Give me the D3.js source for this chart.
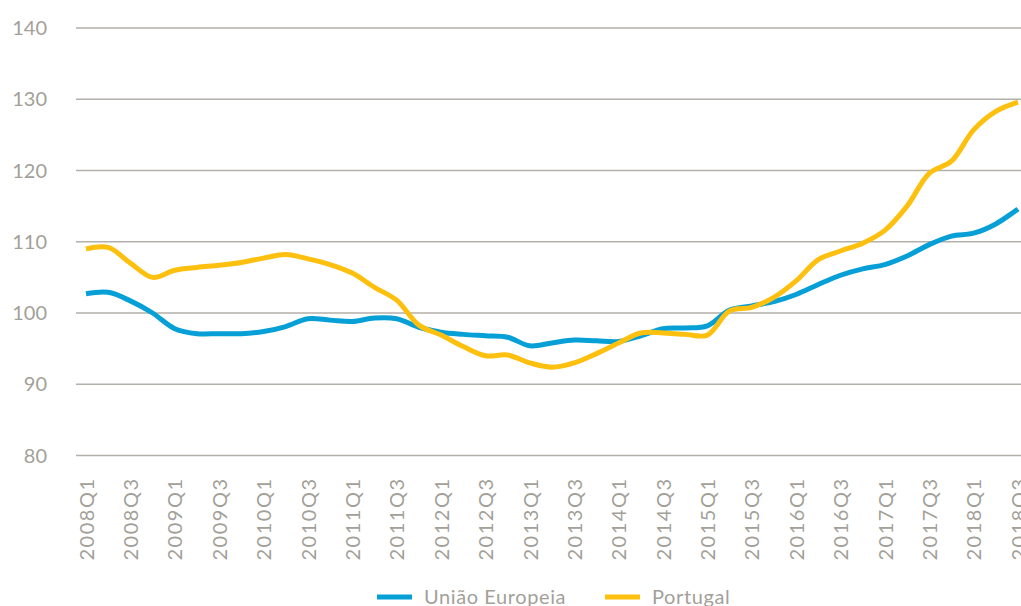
<!DOCTYPE html>
<html>
<head>
<meta charset="utf-8">
<script src="https://cdn.jsdelivr.net/npm/d3@7"></script>
<style>
  body { margin: 0; background: #fff; }
  svg { display: block; font-family: Lato, "Open Sans", sans-serif; }
</style>
</head>
<body>
<svg id="chart" width="1021" height="606"></svg>
<script>
const quarters = [];
for (let y = 2008; y <= 2018; y++) {
  for (let q = 1; q <= 4; q++) {
    if (y === 2018 && q > 3) break;
    quarters.push(`${y}Q${q}`);
  }
}

const ueValues = [
  102.7, 102.9, 101.7, 100.0, 97.8, 97.1, 97.1, 97.1, 97.4, 98.1,
  99.2, 99.0, 98.8, 99.3, 99.2, 98.0, 97.3, 97.0, 96.8, 96.6,
  95.4, 95.8, 96.2, 96.1, 96.0, 96.8, 97.8, 97.9, 98.2, 100.4,
  101.0, 101.6, 102.6, 104.0, 105.3, 106.2, 106.8, 108.0, 109.6, 110.8,
  111.2, 112.5, 114.6
];

const ptValues = [
  109.0, 109.2, 107.0, 105.0, 106.0, 106.4, 106.7, 107.1, 107.7, 108.2,
  107.6, 106.8, 105.6, 103.6, 101.8, 98.3, 96.9, 95.3, 94.0, 94.1,
  93.0, 92.4, 93.0, 94.3, 95.8, 97.2, 97.2, 97.0, 96.9, 100.3,
  100.8, 102.2, 104.5, 107.5, 108.7, 109.8, 111.6, 115.0, 119.6, 121.3,
  125.7, 128.3, 129.6
];

const yTicks = [80, 90, 100, 110, 120, 130, 140];
const seriesNames = ["União Europeia", "Portugal"];
const seriesColors = ["#069fd6", "#fdc00f"];

const svg = d3.select("#chart");
const textColor = "#a39f99";
const gridColor = "#b3afaa";

const x = d3.scalePoint().domain(quarters).range([86, 1018]);
const y = d3.scaleLinear().domain([80, 140]).range([455.5, 28]);

// gridlines
svg.append("g")
  .selectAll("line")
  .data(yTicks)
  .enter().append("line")
    .attr("x1", 76)
    .attr("x2", 1021)
    .attr("y1", d => y(d))
    .attr("y2", d => y(d))
    .attr("stroke", gridColor)
    .attr("stroke-width", 1.5);

// y labels
svg.append("g")
  .selectAll("text")
  .data(yTicks)
  .enter().append("text")
    .attr("x", 47)
    .attr("y", d => y(d))
    .attr("dy", "0.35em")
    .attr("text-anchor", "end")
    .attr("fill", textColor)
    .style("font-size", "20px")
    .text(d => d);

// x axis, only Q1 and Q3 labelled
const xAxis = d3.axisBottom(x)
  .tickValues(quarters.filter(q => q.endsWith("Q1") || q.endsWith("Q3")))
  .tickSize(0);

svg.append("g")
  .attr("transform", `translate(0,${y(80)})`)
  .call(xAxis)
  .call(g => g.select(".domain").remove())
  .call(g => g.selectAll("text")
    .attr("transform", "rotate(-90)")
    .attr("x", -22)
    .attr("y", 0)
    .attr("dy", "0.36em")
    .attr("text-anchor", "end")
    .attr("fill", textColor)
    .style("font-family", "Lato, 'Open Sans', sans-serif")
    .style("font-size", "20px")
    .style("letter-spacing", "1.5px"));

// lines
const line = d3.line()
  .x((d, i) => x(quarters[i]))
  .y(d => y(d))
  .curve(d3.curveCatmullRom.alpha(0.5));

[ueValues, ptValues].forEach((vals, k) => {
  svg.append("path")
    .datum(vals)
    .attr("d", line)
    .attr("fill", "none")
    .attr("stroke", seriesColors[k])
    .attr("stroke-width", 5)
    .attr("stroke-linejoin", "round");
});

// legend
const legendX = [377, 605];
const legend = svg.append("g");
seriesNames.forEach((name, k) => {
  legend.append("line")
    .attr("x1", legendX[k])
    .attr("x2", legendX[k] + 35)
    .attr("y1", 597)
    .attr("y2", 597)
    .attr("stroke", seriesColors[k])
    .attr("stroke-width", 5);
  legend.append("text")
    .attr("x", legendX[k] + 47)
    .attr("y", 604)
    .attr("fill", textColor)
    .style("font-size", "20px")
    .style("letter-spacing", "0.6px")
    .text(name);
});
</script>
</body>
</html>
